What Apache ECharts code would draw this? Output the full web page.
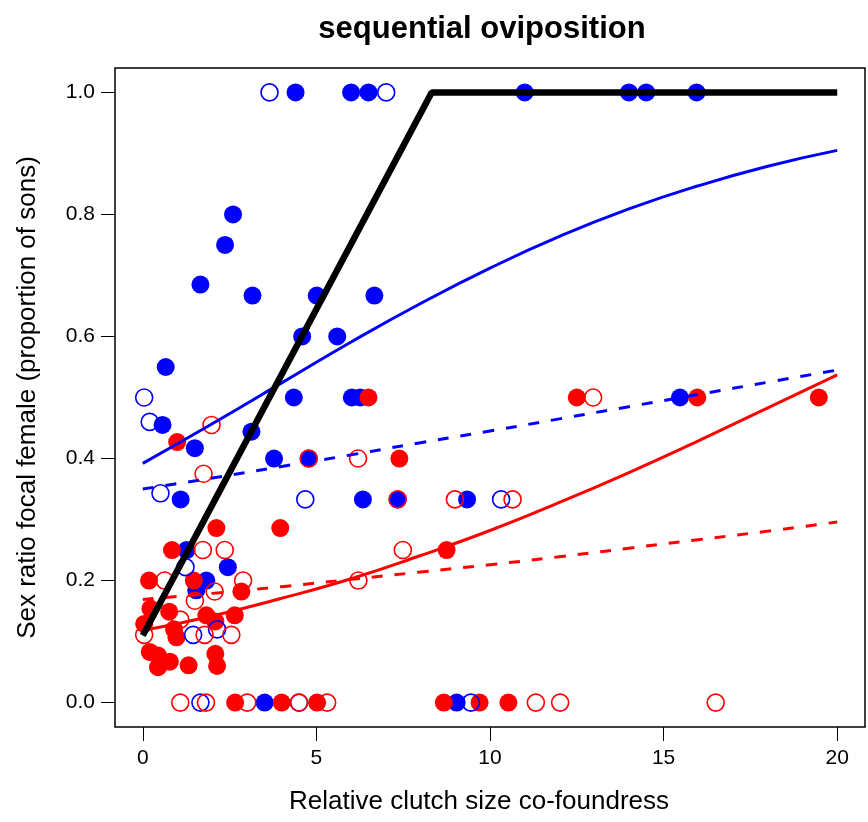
<!DOCTYPE html>
<html lang="en">
<head>
  <meta charset="UTF-8">
  <title>sequential oviposition</title>
  <style>
    html, body { margin: 0; padding: 0; background: #fff; }
    #main { width: 868px; height: 822px; }
  </style>
</head>
<body>
  <div id="main"></div>
  <script src="https://cdn.jsdelivr.net/npm/echarts@6/dist/echarts.min.js"></script>
  <script>
  // points: [clutch size, sex ratio]
  const blueFilled = [
    [4.4, 1.0], [6.0, 1.0], [6.5, 1.0], [11.0, 1.0], [14.0, 1.0], [14.5, 1.0], [15.95, 1.0],
    [2.6, 0.8], [2.37, 0.75], [1.66, 0.685],
    [3.16, 0.667], [5.01, 0.667], [6.67, 0.667],
    [4.59, 0.6], [5.6, 0.6], [0.66, 0.55],
    [4.35, 0.5], [6.02, 0.5], [6.26, 0.5], [15.47, 0.5],
    [0.57, 0.455], [3.13, 0.444], [1.5, 0.417],
    [3.78, 0.4], [4.78, 0.4],
    [1.09, 0.333], [6.34, 0.333], [7.34, 0.333], [9.34, 0.333],
    [1.26, 0.25], [2.45, 0.222], [1.83, 0.2], [1.54, 0.184],
    [3.51, 0], [9.04, 0]
  ];
  const blueOpen = [
    [3.65, 1.0], [7.01, 1.0],
    [0.04, 0.5], [0.2, 0.46], [0.51, 0.343], [4.68, 0.333], [10.32, 0.333],
    [1.23, 0.222], [2.14, 0.12], [1.45, 0.111],
    [1.66, 0], [4.5, 0], [9.45, 0]
  ];
  const redFilled = [
    [6.5, 0.5], [12.5, 0.5], [15.97, 0.5], [19.47, 0.5],
    [0.99, 0.427], [7.39, 0.4],
    [2.12, 0.286], [3.96, 0.286],
    [0.84, 0.25], [8.75, 0.25],
    [0.18, 0.2], [1.47, 0.2], [2.84, 0.182],
    [0.22, 0.154], [0.76, 0.149], [1.83, 0.143], [2.65, 0.143],
    [2.09, 0.133], [0.04, 0.129], [0.9, 0.12], [0.97, 0.107],
    [0.2, 0.083], [0.44, 0.077], [0.78, 0.067], [0.44, 0.058], [1.32, 0.061], [2.09, 0.08], [2.14, 0.06],
    [2.66, 0], [4.0, 0], [5.02, 0], [8.67, 0], [9.7, 0], [10.53, 0]
  ];
  const redOpen = [
    [12.97, 0.5], [1.98, 0.455],
    [4.78, 0.4], [6.2, 0.4], [1.75, 0.375],
    [7.34, 0.333], [8.99, 0.333], [10.65, 0.333],
    [1.73, 0.25], [2.36, 0.25], [7.49, 0.25],
    [0.63, 0.2], [2.89, 0.2], [6.21, 0.2],
    [2.07, 0.182], [1.5, 0.167], [1.08, 0.136],
    [0.04, 0.111], [1.78, 0.111], [2.55, 0.111],
    [1.08, 0], [1.82, 0], [3.01, 0], [4.5, 0], [5.31, 0], [11.32, 0], [12.02, 0], [16.5, 0]
  ];

  // fitted curves, read at every 2 units
  const curveX = [0, 2, 4, 6, 8, 10, 12, 14, 16, 18, 20];
  const blueSolid = [0.392, 0.457, 0.524, 0.591, 0.654, 0.712, 0.764, 0.809, 0.847, 0.879, 0.905];
  const blueDashed = [0.350, 0.368, 0.387, 0.406, 0.426, 0.445, 0.465, 0.485, 0.505, 0.525, 0.545];
  const redSolid = [0.118, 0.142, 0.171, 0.203, 0.241, 0.282, 0.328, 0.377, 0.429, 0.483, 0.537];
  const redDashed = [0.169, 0.179, 0.190, 0.202, 0.214, 0.226, 0.239, 0.253, 0.267, 0.281, 0.296];
  const blackLine = [[0, 0.11], [8.32, 1.0], [20, 1.0]];

  const xTicks = [0, 5, 10, 15, 20];
  const yTicks = [0, 0.2, 0.4, 0.6, 0.8, 1.0];

  const font = 'Liberation Sans, Arial, Helvetica, sans-serif';
  const BLUE = '#0000ff';
  const RED = '#ff0000';

  function pairs(ys) {
    return curveX.map((x, i) => [x, ys[i]]);
  }

  function filled(name, data, color) {
    return {
      name: name, type: 'scatter', data: data, symbol: 'circle', symbolSize: 18,
      itemStyle: { color: color, opacity: 1 }, z: 3
    };
  }
  function open(name, data, color) {
    return {
      name: name, type: 'scatter', data: data, symbol: 'circle', symbolSize: 17,
      itemStyle: { color: 'rgba(0,0,0,0)', borderColor: color, borderWidth: 1.6, opacity: 1 }, z: 4
    };
  }
  function curve(name, data, color, width, dashed, smooth) {
    return {
      name: name, type: 'line', data: data, smooth: smooth,
      showSymbol: false, symbol: 'none', z: 5,
      lineStyle: { color: color, width: width, type: dashed ? [11, 12] : 'solid', cap: 'butt' }
    };
  }

  let myChart = echarts.init(document.getElementById('main'), null, { renderer: 'canvas' });
  let option = {
    backgroundColor: '#fff',
    animation: false,
    title: {
      text: 'sequential oviposition',
      left: 477, top: 9, textAlign: 'center',
      textStyle: { fontFamily: font, fontSize: 31, fontWeight: 'bold', color: '#000' }
    },
    grid: {
      left: 115, right: 3, top: 68, bottom: 95,
      outerBoundsMode: 'none', containLabel: false,
      show: true, borderColor: '#000', borderWidth: 1.5, backgroundColor: '#fff'
    },
    xAxis: {
      type: 'value', min: -0.8, max: 20.8,
      name: 'Relative clutch size co-foundress', nameLocation: 'middle', nameGap: 62,
      nameTextStyle: { fontFamily: font, fontSize: 26, color: '#000', padding: [0, 22, 0, 0] },
      splitLine: { show: false },
      axisLine: { show: false, onZero: false },
      axisTick: { show: true, inside: false, length: 14, lineStyle: { color: '#000', width: 1 }, customValues: xTicks },
      axisLabel: { fontFamily: font, fontSize: 21, color: '#000', margin: 21, customValues: xTicks }
    },
    yAxis: {
      type: 'value', min: -0.04, max: 1.04,
      name: 'Sex ratio focal female (proportion of sons)', nameLocation: 'middle', nameGap: 74,
      nameTextStyle: { fontFamily: font, fontSize: 26, color: '#000' },
      splitLine: { show: false },
      axisLine: { show: false, onZero: false },
      axisTick: { show: true, inside: false, length: 14, lineStyle: { color: '#000', width: 1 }, customValues: yTicks },
      axisLabel: {
        fontFamily: font, fontSize: 21, color: '#000', margin: 20, customValues: yTicks,
        formatter: v => v.toFixed(1)
      }
    },
    series: [
      filled('blueFilled', blueFilled, BLUE),
      filled('redFilled', redFilled, RED),
      open('blueOpen', blueOpen, BLUE),
      open('redOpen', redOpen, RED),
      curve('blueSolid', pairs(blueSolid), BLUE, 3, false, true),
      curve('blueDashed', pairs(blueDashed), BLUE, 3, true, true),
      curve('redSolid', pairs(redSolid), RED, 3, false, true),
      curve('redDashed', pairs(redDashed), RED, 3, true, true),
      curve('black', blackLine, '#000', 6.5, false, false)
    ]
  };
  myChart.setOption(option);
  </script>
</body>
</html>
